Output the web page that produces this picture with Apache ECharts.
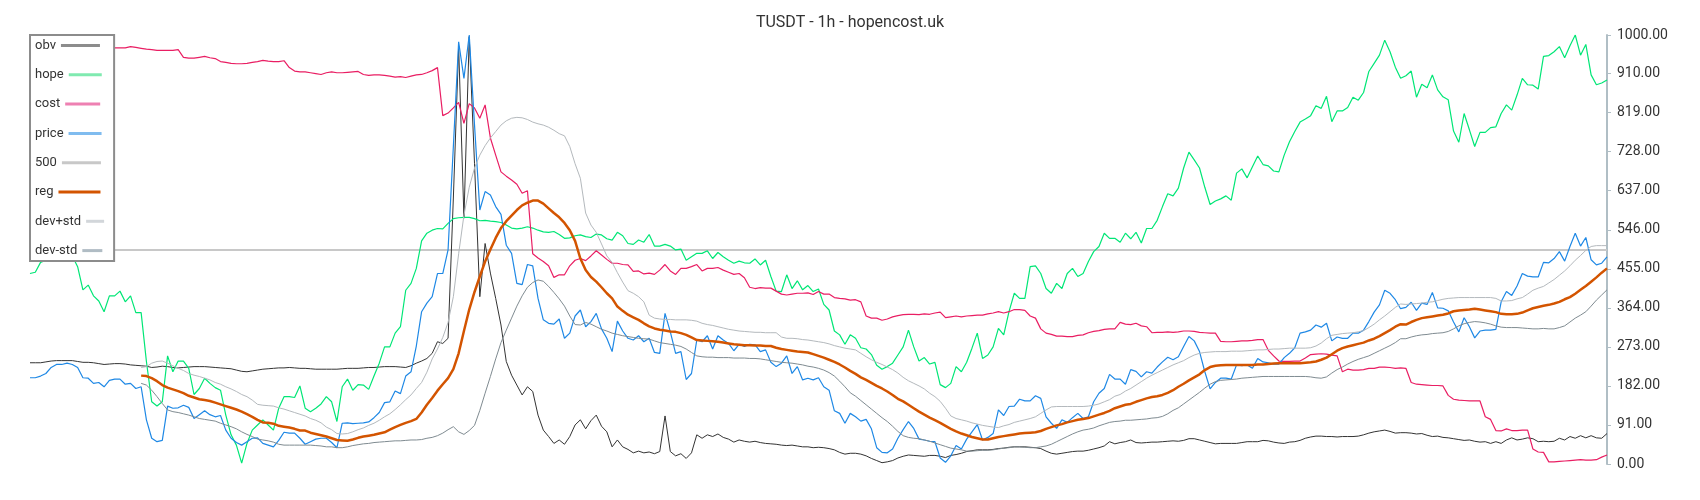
<!DOCTYPE html>
<html>
<head>
<meta charset="utf-8">
<title>TUSDT - 1h - hopencost.uk</title>
<script src="https://cdn.jsdelivr.net/npm/echarts@6/dist/echarts.min.js"></script>
<style>
  html, body { margin: 0; padding: 0; background: #fff; }
  #chart { width: 1700px; height: 500px; }
</style>
</head>
<body>
<div id="chart"></div>
<script>
  // 299 hourly points, x axis itself is not drawn
  const hours = [];
  for (let k = 0; k < 299; k++) hours.push('h' + k);

  const yTicks = [0, 91, 182, 273, 364, 455, 546, 637, 728, 819, 910, 1000];
  const level500 = 500;

  const obv = [
    236,236,236,238,240,241,241,241,241,239,237,237,236,234,232,233,234,234,233,231,230,229,228,225,226,228,227,225,224,225,226,227,227,227,226,225,224,223,222,219,216,215,217,219,221,222,223,224,224,225,224,223,
    223,222,221,221,221,221,221,222,223,223,223,224,225,225,226,227,227,227,226,225,229,235,240,246,258,285,281,293,620,973,573,996,700,390,514,445,386,324,239,207,184,161,180,169,114,79,64,48,56,46,64,91,
    103,82,101,114,88,75,40,56,40,34,26,30,26,28,24,29,112,29,19,24,13,26,68,60,68,64,70,62,58,51,56,53,51,53,50,48,47,46,44,43,44,42,40,40,38,39,38,36,33,27,23,25,
    25,23,19,13,8,3,5,8,14,18,21,20,19,18,20,20,18,15,20,22,25,29,31,33,33,33,34,36,37,39,40,40,40,39,38,36,30,25,23,25,27,29,30,30,32,35,38,42,52,47,50,52,
    56,50,49,50,51,51,52,53,54,53,55,59,59,56,53,50,47,48,48,48,48,50,52,52,52,55,54,51,49,48,51,52,55,60,63,65,65,64,64,63,64,64,64,65,68,72,75,77,79,76,72,73,
    73,72,70,71,67,64,65,62,61,59,57,55,56,53,51,52,48,52,48,56,61,56,58,61,59,52,53,52,53,60,56,64,60,66,61,66,61,60,71
  ];

  const hope = [
    444,447,470,475,490,495,500,495,485,460,406,417,392,380,355,392,392,403,378,392,353,353,239,145,135,145,252,215,240,240,223,162,176,200,188,178,172,114,68,44,2,48,79,91,103,91,79,130,157,157,155,182,
    130,122,130,140,157,145,99,180,198,172,185,184,174,205,235,273,273,305,320,405,421,456,520,538,545,549,548,561,572,574,575,575,572,567,568,566,565,563,557,550,548,550,553,550,545,541,540,542,535,526,527,532,
    534,530,528,536,534,525,522,540,532,514,512,522,517,535,508,508,512,508,499,501,475,483,491,491,497,479,493,483,475,468,473,469,468,478,464,475,437,403,402,441,409,427,406,416,402,408,372,359,310,301,279,301,
    293,271,268,255,230,221,227,235,254,273,312,273,240,248,233,237,185,178,188,227,215,237,270,305,246,254,273,316,301,355,398,386,386,460,462,444,409,398,421,409,444,456,437,444,472,495,507,538,526,526,517,538,
    525,540,515,549,549,568,600,630,625,643,690,727,709,690,645,605,613,618,625,615,678,688,667,693,718,698,695,683,681,720,751,775,797,804,812,835,829,857,798,823,823,831,855,848,866,915,934,953,988,961,925,899,
    905,916,855,885,877,907,872,856,849,776,750,817,779,740,773,773,784,786,817,837,825,860,899,884,883,874,950,952,961,973,947,975,1000,953,978,907,884,888,895
  ];

  const cost = [
    980,979,979,978,978,977,977,976,976,976,975,975,975,976,977,976,970,970,970,973,971,969,967,966,964,964,964,964,966,948,946,946,948,950,947,945,938,936,934,933,933,934,936,938,941,939,938,938,940,924,916,914,
    914,912,910,908,912,914,912,912,913,914,915,908,906,907,907,906,904,902,903,901,904,907,908,912,917,924,812,818,830,843,794,840,830,806,837,760,720,681,671,662,652,631,637,490,480,472,462,435,441,441,462,475,
    479,474,485,497,487,477,468,468,465,464,449,450,443,445,442,452,465,450,442,456,456,460,465,450,456,456,458,452,447,442,444,434,412,409,411,410,410,403,396,394,396,398,398,399,395,402,396,396,388,386,385,382,
    383,378,345,340,340,335,338,343,346,348,349,349,348,350,349,352,354,341,343,345,343,345,346,347,347,350,352,355,352,355,360,360,358,345,340,315,305,302,298,298,297,297,300,301,306,309,311,314,315,315,330,326,
    325,328,322,320,306,307,307,308,307,308,310,310,309,307,306,305,305,286,285,285,286,287,287,288,290,290,265,252,240,239,239,240,240,247,255,256,257,256,254,252,215,221,219,219,220,223,223,226,226,225,223,224,
    223,190,186,185,184,183,183,182,160,151,149,148,147,147,147,110,104,78,77,82,78,78,79,79,35,28,27,5,5,6,7,8,9,10,9,9,10,16,21
  ];

  const price = [
    201,201,205,211,225,232,232,235,232,225,201,200,188,190,180,195,198,198,186,188,176,180,103,60,52,55,135,130,131,137,132,106,115,124,115,110,113,79,60,50,44,52,60,61,48,44,40,55,74,72,72,60,
    46,52,58,60,60,50,38,95,96,94,95,96,98,108,120,143,145,170,164,205,215,275,355,375,390,444,444,499,740,984,899,1000,790,592,635,627,600,582,510,491,421,418,465,462,386,336,328,326,338,293,305,345,
    359,320,332,351,315,293,262,333,310,293,289,299,285,293,260,258,351,308,258,262,197,211,289,285,299,268,299,289,281,264,279,274,279,278,262,266,237,227,235,252,211,227,196,200,196,201,180,172,124,118,95,118,
    110,100,104,82,38,27,26,35,60,80,99,83,58,56,53,52,14,4,19,43,35,58,75,92,56,62,71,126,113,134,135,151,147,147,159,153,110,95,83,103,97,108,118,106,110,145,165,176,209,198,198,186,
    220,216,203,215,212,226,238,249,243,250,274,297,287,262,215,175,190,200,200,198,231,229,231,223,246,238,236,233,233,248,258,271,305,308,312,324,319,328,287,296,293,293,305,305,312,332,354,371,405,398,383,362,
    365,377,358,375,372,400,364,363,357,331,308,341,320,294,310,312,312,314,378,402,393,415,444,438,436,436,470,469,479,495,473,507,538,508,528,476,464,468,483
  ];

  const reg = [
    null,null,null,null,null,null,null,null,null,null,null,null,null,null,null,null,null,null,null,null,null,
    206,205,200,193,184,178,174,170,165,159,155,151,149,147,143,139,135,131,127,122,116,110,103,97,96,94,89,87,85,82,78,
    78,73,70,67,64,60,56,55,54,57,61,64,66,68,71,74,80,86,91,96,100,105,120,138,154,171,186,200,221,258,310,360,401,437,472,500,527,550,566,579,592,603,609,614,614,607,596,585,575,562,545,520,
    479,452,436,425,412,398,386,367,357,348,342,336,328,321,316,313,311,309,308,305,301,295,289,288,287,286,285,283,281,279,278,277,277,276,276,275,275,271,268,266,264,262,261,260,256,252,248,243,238,232,225,217,
    210,202,196,189,182,176,169,161,152,146,138,130,122,115,108,102,96,89,82,76,71,67,63,60,57,57,60,63,65,67,69,71,72,73,74,77,82,86,90,93,97,100,103,105,107,111,115,119,124,130,134,138,
    140,145,149,153,156,158,161,166,172,180,187,195,202,209,219,226,229,230,231,231,231,231,231,231,232,232,233,234,235,235,235,235,235,236,237,239,243,248,256,264,270,274,277,280,283,288,292,298,305,312,320,326,
    325,331,336,340,342,344,346,348,351,356,358,359,360,362,360,358,356,354,350,349,349,350,353,358,363,366,369,371,374,378,384,389,397,406,415,425,435,446,456
  ];

  const devUp = [
    null,null,null,null,null,null,null,null,null,null,null,null,null,null,null,null,null,null,null,null,null,
    225,227,235,239,240,235,229,223,218,211,207,204,200,196,190,186,180,175,169,162,157,149,139,137,136,135,131,128,124,120,116,
    112,106,102,96,86,80,71,70,71,75,80,84,90,95,102,110,117,127,138,150,161,176,190,214,245,268,295,330,390,490,580,645,690,720,742,760,775,790,800,806,808,807,803,797,793,790,785,778,770,765,740,700,
    666,585,557,540,513,485,470,446,424,404,398,390,378,347,340,338,337,337,336,336,336,335,333,328,325,323,320,317,314,312,310,309,308,307,307,306,306,306,296,293,293,292,290,289,287,285,283,280,276,273,270,268,
    266,258,250,243,237,232,226,220,212,202,194,188,182,175,165,157,146,130,112,106,103,100,96,93,90,88,86,85,89,92,97,100,103,106,110,118,126,133,134,134,134,134,134,134,135,137,140,145,150,158,162,170,
    176,184,192,200,207,213,219,225,231,236,241,248,254,258,260,261,262,262,262,263,263,263,264,265,266,266,267,268,268,269,270,270,270,270,271,275,282,292,300,302,304,305,306,308,311,318,326,336,345,355,365,373,
    372,373,374,375,377,378,381,384,386,387,388,388,388,388,388,388,388,386,380,380,381,385,388,396,405,410,414,422,430,440,450,462,475,486,498,507,509,509,509
  ];

  const devDn = [
    null,null,null,null,null,null,null,null,null,null,null,null,null,null,null,null,null,null,null,null,null,
    188,184,172,157,141,126,122,120,117,114,110,106,104,102,100,95,91,87,82,75,69,64,58,56,54,51,46,44,44,44,44,
    44,44,43,42,40,40,38,38,40,43,45,47,48,50,51,52,53,54,54,55,56,56,57,60,62,66,72,80,87,75,69,78,90,125,165,204,245,283,312,340,368,392,412,423,429,426,414,400,385,368,345,325,
    324,330,326,320,314,310,305,302,299,297,295,293,292,291,287,283,281,279,277,274,268,260,252,250,249,249,248,248,248,247,247,247,246,246,245,243,241,239,237,236,235,233,231,228,226,223,219,213,205,193,180,166,
    158,148,138,128,118,108,99,88,76,66,62,60,59,56,53,49,45,41,37,35,33,30,30,31,32,32,33,35,37,38,40,40,39,38,38,40,42,46,52,58,64,70,75,79,81,84,89,93,97,99,100,102,
    102,103,104,105,107,108,111,117,125,131,140,149,158,167,177,186,192,195,196,197,198,200,201,202,203,204,204,204,204,204,204,204,204,204,203,201,200,203,212,220,226,233,239,244,248,252,258,264,270,276,283,292,
    292,296,299,301,302,304,305,306,309,315,322,327,330,332,331,329,326,322,319,318,318,318,317,316,315,315,316,315,315,318,322,331,340,347,355,368,382,394,406
  ];

  // legend swatches are drawn lighter than the lines, like the original
  const legendNames = ['obv', 'hope', 'cost', 'price', '500', 'reg', 'dev+std', 'dev-std'];
  const legendColors = ['#8c8c8c', '#80eab0', '#ee80b2', '#80bcef', '#c8c8c8', '#d35400', '#d2d6da', '#b0bcc4'];
  const legendLens = [39, 33, 35, 33, 39, 42, 18, 20];

  const rich = { gap: { width: 5, height: 3, verticalAlign: 'middle' } };
  legendNames.forEach((n, k) => {
    rich['l' + k] = { width: legendLens[k], height: 3, verticalAlign: 'middle', backgroundColor: legendColors[k] };
  });

  function line(name, data, color, width) {
    return {
      name: name,
      type: 'line',
      data: data,
      symbol: 'none',
      showSymbol: false,
      lineStyle: { color: color, width: width },
      itemStyle: { color: color },
      emphasis: { disabled: true }
    };
  }

  const chart = echarts.init(document.getElementById('chart'), null, { renderer: 'canvas' });
  chart.setOption({
    animation: false,
    backgroundColor: '#fff',
    textStyle: { fontFamily: 'Roboto' },
    title: {
      text: 'TUSDT - 1h - hopencost.uk',
      left: 'center',
      top: 14.5,
      padding: 0,
      textStyle: { fontSize: 16, fontWeight: 'normal', color: '#333', fontFamily: 'Roboto' }
    },
    legend: {
      z: 10,
      orient: 'vertical',
      left: 30,
      top: 35,
      padding: [4, 10, 4, 0],
      icon: 'rect',
      itemWidth: 0,
      itemHeight: 13,
      itemGap: 16.3,
      itemStyle: { opacity: 0 },
      lineStyle: { opacity: 0 },
      backgroundColor: '#fff',
      borderColor: '#8c8c8c',
      borderWidth: 2,
      data: legendNames,
      formatter: function (name) {
        return name + '{gap|}{l' + legendNames.indexOf(name) + '|}';
      },
      textStyle: { fontSize: 13, color: '#333', fontFamily: 'Roboto', rich: rich }
    },
    grid: { left: 30, right: 93, top: 35, bottom: 36 },
    xAxis: {
      type: 'category',
      data: hours,
      boundaryGap: false,
      show: false
    },
    yAxis: {
      type: 'value',
      position: 'right',
      min: yTicks[0],
      max: yTicks[yTicks.length - 1],
      interval: yTicks[1] - yTicks[0],
      axisLine: { show: true, lineStyle: { color: '#b0bec5', width: 2 } },
      axisTick: { show: true, length: 4, lineStyle: { color: '#b0bec5', width: 1 } },
      axisLabel: {
        margin: 10,
        color: '#333',
        fontSize: 14,
        fontFamily: 'Roboto',
        formatter: function (v) { return v.toFixed(2); }
      },
      splitLine: { show: false }
    },
    series: [
      line('obv', obv, '#333333', 1),
      line('hope', hope, '#00e676', 1.2),
      line('cost', cost, '#e91e63', 1.2),
      line('price', price, '#1e88e5', 1.2),
      {
        name: '500',
        type: 'line',
        data: [],
        symbol: 'none',
        lineStyle: { color: '#c8c8c8', width: 2 },
        itemStyle: { color: '#c8c8c8' },
        markLine: {
          z: 1,
          silent: true,
          symbol: ['none', 'none'],
          label: { show: false },
          lineStyle: { color: '#c8c8c8', width: 2, type: 'solid' },
          data: [{ yAxis: level500 }]
        }
      },
      line('reg', reg, '#d35400', 2.5),
      line('dev+std', devUp, '#b4b9bd', 1),
      line('dev-std', devDn, '#7f8b91', 1)
    ]
  });
</script>
</body>
</html>
